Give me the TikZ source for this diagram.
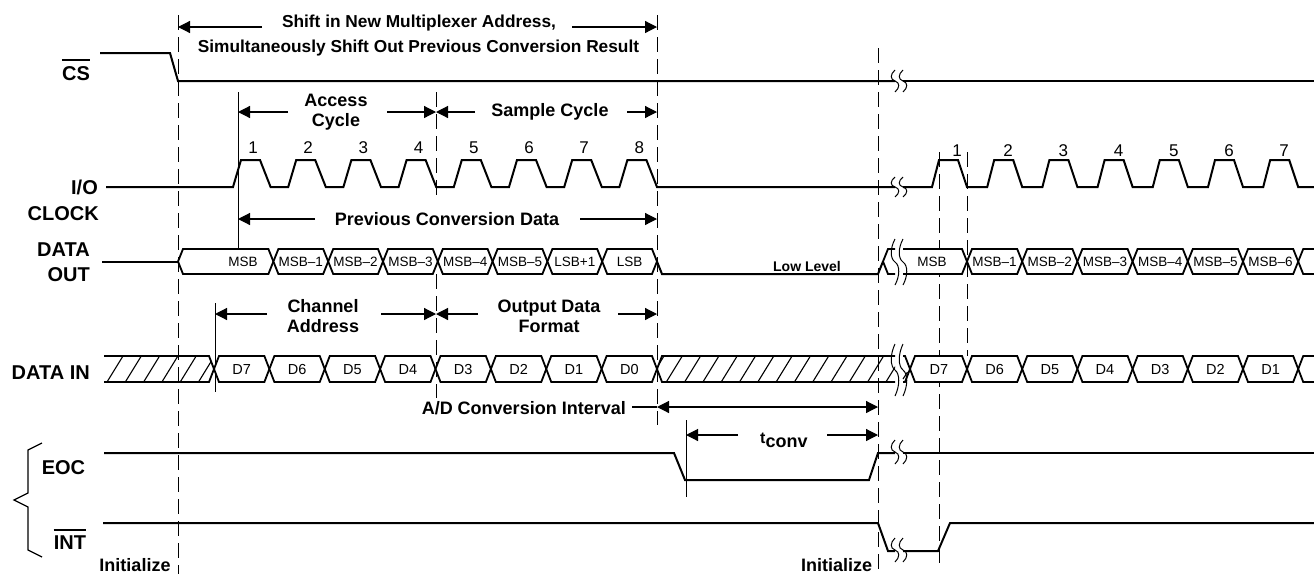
\documentclass[tikz,border=0pt]{standalone}
\usepackage{fontspec}
\setmainfont{Liberation Sans}
\usetikzlibrary{arrows.meta}
\newcommand\tdbreak[3]{%
  \foreach \bx in {#1,#1+8}{%
    \draw[brk] (\bx,#2-#3) .. controls (\bx-5,#2-0.6*#3) and (\bx-5,#2-0.15*#3) .. (\bx,#2)
      .. controls (\bx+5,#2+0.15*#3) and (\bx+5,#2+0.6*#3) .. (\bx,#2+#3);}}
\begin{document}
\begin{tikzpicture}[x=1pt,y=-1pt,
  sig/.style={line width=2pt, line join=miter},
  bus/.style={line width=1.8pt, line join=miter},
  busbox/.style={line width=1.8pt, line join=miter, fill=white},
  brk/.style={line width=1pt},
  guide/.style={line width=0.9pt, dash pattern=on 15pt off 7pt},
  tickline/.style={line width=0.9pt},
  hatchline/.style={line width=1.1pt},
  arrline/.style={line width=1.2pt},
  arr/.style={line width=1.2pt, -{Triangle[length=12pt,width=12pt]}},
  lbl/.style={font=\fontsize{20}{22}\selectfont\bfseries, inner sep=0pt, text height=14.3pt, text depth=0pt},
  ann/.style={font=\fontsize{18}{20}\selectfont\bfseries, inner sep=0pt, align=center},
  ann1/.style={font=\fontsize{18}{20}\selectfont\bfseries, inner sep=0pt, text height=12.9pt, text depth=0pt},
  top/.style={font=\fontsize{17.3}{20}\selectfont\bfseries, inner sep=0pt, text height=12.4pt, text depth=0pt},
  small/.style={font=\fontsize{13.5}{15}\selectfont, inner sep=0pt, text height=9.7pt, text depth=0pt},
  dsmall/.style={font=\fontsize{14.5}{16}\selectfont, inner sep=0pt, text height=10.4pt, text depth=0pt},
  num/.style={font=\fontsize{17}{18}\selectfont, inner sep=0pt, text height=12.2pt, text depth=0pt},
]
\fill[white] (0,0) rectangle (1314,574);
\useasboundingbox (0,0) rectangle (1314,574);

% ---------- guide lines ----------
\draw[guide] (178,15) -- (178,574);
\draw[guide] (657,15) -- (657,425);
\draw[guide] (878,48) -- (878,574);
\draw[guide] (436,92) -- (436,200);
\draw[guide] (436,274) -- (436,398);
\draw[guide] (939,152) -- (939,563);
\draw[guide] (967,152) -- (967,356);
\draw[tickline] (238,92) -- (238,249);
\draw[tickline] (215,303) -- (215,392);
\draw[tickline] (686,420) -- (686,497);

% ---------- left labels ----------
\node[lbl] (cs) at (76,73.5) {CS};
\draw[line width=1.8pt] ([yshift=6pt]cs.north west) -- ([yshift=6pt]cs.north east);
\node[lbl, anchor=east] (io) at (98,187) {I/O};
\node[lbl, anchor=east] (clk) at (99,213) {CLOCK};
\node[lbl, anchor=east] (dat) at (90,249.5) {DATA};
\node[lbl, anchor=east] (out) at (90,274.5) {OUT};
\node[lbl, anchor=east] (din) at (90,372) {DATA IN};
\node[lbl] (eoc) at (63.5,467) {EOC};
\node[lbl] (int) at (70,542) {INT};
\draw[line width=1.8pt] ([yshift=5pt]int.north west) -- ([yshift=5pt]int.north east);
\draw[line width=1.3pt] (42,443) -- (28,450) -- (28,493) -- (14,500) -- (28,507) -- (28,550) -- (42,557);
\node[ann1] (ini1) at (135,565) {Initialize};
\node[ann1] (ini2) at (836.5,565) {Initialize};

% ---------- CS ----------
\draw[sig] (100,53) -- (170,53) -- (178,81) -- (895,81);
\draw[sig] (903,81) -- (1314,81);
\tdbreak{895}{81}{11}

% ---------- top annotation ----------
\node[top] (sh1) at (419,21) {Shift in New Multiplexer Address,};
\node[top] (sh2) at (418.5,46) {Simultaneously Shift Out Previous Conversion Result};
\draw[arr] (262,27) -- (178,27);
\draw[arr] (572,27) -- (657,27);

% ---------- access / sample ----------
\node[ann] (acc) at (336,112.5) {Access\\Cycle};
\draw[arr] (288,112) -- (238,112);
\draw[arr] (387,112) -- (436,112);
\node[ann1] (smp) at (550,110) {Sample Cycle};
\draw[arr] (475,112) -- (436,112);
\draw[arr] (627,112) -- (657,112);

% ---------- I/O clock ----------
\draw[sig] (106,187) \foreach \k in {0,...,7}{ -- ({233+55.2*\k},187) -- ({241+55.2*\k},160) -- ({260+55.2*\k},160) -- ({270.6+55.2*\k},187) } -- (895,187);
\foreach \k [count=\i] in {0,...,7}{ \node[num] (cl\i) at ({253+55.2*\k},147) {\i}; }
\draw[sig] (903,187) \foreach \k in {0,...,6}{ -- ({932+55.2*\k},187) -- ({939+55.2*\k},160) -- ({958+55.2*\k},160) -- ({967+55.2*\k},187) } -- (1314,187);
\node[num] (cr1) at (957,150) {1};
\foreach \k [count=\i from 2] in {1,...,6}{ \node[num] (cr\i) at ({953+55.2*\k},150) {\i}; }
\tdbreak{895}{187}{10}

% ---------- previous conversion data ----------
\node[ann1, fill=white, inner xsep=2pt, inner ysep=2pt] (pcd) at (447,219) {Previous Conversion Data};
\draw[arr] (315,219) -- (238,219);
\draw[arr] (580,219) -- (657,219);

% ---------- DATA OUT ----------
\draw[sig] (102,261.5) -- (178,261.5);
\filldraw[busbox] (178,261.5) -- (183,249) -- (268.4,249) -- (273.4,261.5) -- (268.4,274) -- (183,274) -- cycle;
\node[small] (do0) at (243,262) {MSB};
\foreach \a/\b/\t [count=\i] in {273.4/328.2/MSB–1,328.2/383/MSB–2,383/437.8/MSB–3,437.8/492.6/MSB–4,492.6/547.4/MSB–5,547.4/602.2/LSB+1,602.2/657/LSB}{
  \filldraw[busbox] (\a,261.5) -- (\a+5,249) -- (\b-5,249) -- (\b,261.5) -- (\b-5,274) -- (\a+5,274) -- cycle;
  \node[small] (do\i) at ({(\a+\b)/2},262) {\t};}
\draw[sig] (657,261.5) -- (662,274) -- (878,274) -- (883,261.5);
\node[font=\fontsize{14}{16}\selectfont\bfseries, inner sep=0pt, text height=10pt, text depth=0pt] (low) at (807,266) {Low Level};
\fill[white] (883,261.5) -- (888,249) -- (962,249) -- (967,261.5) -- (962,274) -- (888,274) -- cycle;
\draw[bus] (895,249) -- (888,249) -- (883,261.5) -- (888,274) -- (895,274);
\draw[bus] (903,249) -- (962,249) -- (967,261.5) -- (962,274) -- (903,274);
\node[small] (dor0) at (932,262) {MSB};
\foreach \a/\b/\t [count=\i] in {967/1022.2/MSB–1,1022.2/1077.4/MSB–2,1077.4/1132.6/MSB–3,1132.6/1187.8/MSB–4,1187.8/1243/MSB–5,1243/1298.2/MSB–6}{
  \filldraw[busbox] (\a,261.5) -- (\a+5,249) -- (\b-5,249) -- (\b,261.5) -- (\b-5,274) -- (\a+5,274) -- cycle;
  \node[small] (dor\i) at ({(\a+\b)/2},262) {\t};}
\draw[bus] (1314,249) -- (1303.2,249) -- (1298.2,261.5) -- (1303.2,274) -- (1314,274);
\tdbreak{895}{262}{23}

% ---------- channel address / output data format ----------
\node[ann] (cha) at (323,316.5) {Channel\\Address};
\draw[arr] (267,314) -- (215,314);
\draw[arr] (381,314) -- (436,314);
\node[ann] (odf) at (549,316.5) {Output Data\\Format};
\draw[arr] (478,314) -- (436,314);
\draw[arr] (618,314) -- (657,314);

% ---------- DATA IN ----------
\begin{scope}
  \clip (104,356) -- (209,356) -- (214,369) -- (209,382) -- (104,382) -- cycle;
  \foreach \h in {0,...,7} \draw[hatchline] ({107+18.3*\h},382) -- ++(16,-26);
\end{scope}
\draw[bus] (104,356) -- (209,356) -- (214,369) -- (209,382) -- (104,382);
\foreach \t [count=\i from 0] in {D7,D6,D5,D4,D3,D2,D1,D0}{
  \pgfmathsetmacro\a{214+55.375*\i}
  \pgfmathsetmacro\b{214+55.375*(\i+1)}
  \filldraw[busbox] (\a,369) -- (\a+5,356) -- (\b-5,356) -- (\b,369) -- (\b-5,382) -- (\a+5,382) -- cycle;
  \node[dsmall] (di\i) at ({(\a+\b)/2},369.5) {\t};}
\begin{scope}
  \clip (657,369) -- (662,356) -- (895,356) -- (895,382) -- (662,382) -- cycle;
  \foreach \h in {0,...,13} \draw[hatchline] ({648+18.3*\h},382) -- ++(16,-26);
\end{scope}
\draw[bus] (895,356) -- (662,356) -- (657,369) -- (662,382) -- (895,382);
\draw[bus] (903,356) -- (905,356) -- (910,369) -- (905,382) -- (903,382);
\draw[hatchline] (903,379) -- (907.5,372);
\filldraw[busbox] (910,369) -- (915,356) -- (962,356) -- (967,369) -- (962,382) -- (915,382) -- cycle;
\node[dsmall] (dir0) at (939,369.5) {D7};
\foreach \t [count=\i from 0] in {D6,D5,D4,D3,D2,D1}{
  \pgfmathsetmacro\a{967+55.2*\i}
  \pgfmathsetmacro\b{967+55.2*(\i+1)}
  \filldraw[busbox] (\a,369) -- (\a+5,356) -- (\b-5,356) -- (\b,369) -- (\b-5,382) -- (\a+5,382) -- cycle;
  \node[dsmall] (dir\t) at ({(\a+\b)/2},369.5) {\t};}
\draw[bus] (1314,356) -- (1303.2,356) -- (1298.2,369) -- (1303.2,382) -- (1314,382);
\tdbreak{895}{370}{26}

% ---------- A/D conversion interval ----------
\node[ann1, anchor=east] (adc) at (626,408) {A/D Conversion Interval};
\draw[arrline] (632,407) -- (657,407);
\draw[arr] (700,407) -- (657,407);
\draw[arr] (700,407) -- (878,407);
\node[font=\fontsize{18}{20}\selectfont\bfseries, inner sep=0pt, anchor=base west] (tc) at (760,443) {\fontsize{16}{18}\selectfont t\fontsize{18}{20}\selectfont\raisebox{-4.5pt}{conv}};
\draw[arr] (738,435) -- (686,435);
\draw[arr] (827,435) -- (878,435);

% ---------- EOC ----------
\draw[sig] (104,453) -- (674,453) -- (685,480) -- (869,480) -- (878,453) -- (895,453);
\draw[sig] (903,453) -- (1314,453);
\tdbreak{895}{452}{12}

% ---------- INT ----------
\draw[sig] (103,523) -- (878,523) -- (888,551) -- (895,551);
\draw[sig] (903,551) -- (938,551) -- (950,523) -- (1314,523);
\tdbreak{895}{550}{12}
\end{tikzpicture}
\end{document}
